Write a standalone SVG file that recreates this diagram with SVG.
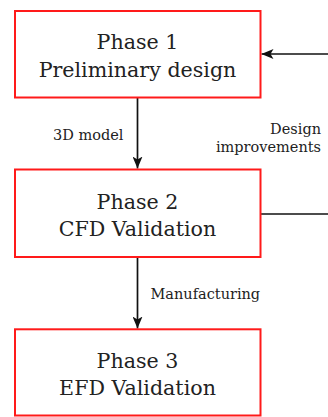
<svg xmlns="http://www.w3.org/2000/svg" width="328" height="417" viewBox="0 0 328 417">
<defs>
<style>
.box{fill:#fff;stroke:#ff1a1a;stroke-width:2}
.big{font-family:"DejaVu Serif","Liberation Serif",serif;font-size:20.6px;fill:#222;text-anchor:middle}
.small{font-family:"DejaVu Serif","Liberation Serif",serif;font-size:14.5px;fill:#222}
.conn{fill:none;stroke:#111;stroke-width:1.7}
</style>
<marker id="ah" viewBox="0 0 12 10" refX="12" refY="5" markerWidth="12" markerHeight="10" markerUnits="userSpaceOnUse" orient="auto">
<path d="M0,0 L12,5 L0,10 L3,5 z" fill="#111"/>
</marker>
</defs>
<rect width="328" height="417" fill="#fff"/>
<g id="connectors">
<line class="conn" x1="137.5" y1="98" x2="137.5" y2="168.5" marker-end="url(#ah)"/>
<line class="conn" x1="137.5" y1="258" x2="137.5" y2="328.5" marker-end="url(#ah)"/>
<line class="conn" x1="261" y1="214" x2="330" y2="214"/>
<line class="conn" x1="330" y1="54" x2="261.5" y2="54" marker-end="url(#ah)"/>
</g>
<g id="phase1">
<rect class="box" x="15" y="11" width="245.5" height="86.5"/>
<text class="big" x="137.5" y="49.3">Phase 1</text>
<text class="big" x="137.5" y="76.7">Preliminary design</text>
</g>
<g id="phase2">
<rect class="box" x="15" y="169.5" width="245.5" height="87.5"/>
<text class="big" x="137.5" y="209">Phase 2</text>
<text class="big" x="137.5" y="235.7">CFD Validation</text>
</g>
<g id="phase3">
<rect class="box" x="15" y="329.3" width="245.5" height="86.2"/>
<text class="big" x="137.5" y="368.3">Phase 3</text>
<text class="big" x="137.5" y="395">EFD Validation</text>
</g>
<g id="labels">
<text class="small" x="123.5" y="140" text-anchor="end">3D model</text>
<text class="small" x="321" y="134.3" text-anchor="end">Design</text>
<text class="small" x="321" y="151.5" text-anchor="end">improvements</text>
<text class="small" x="150.5" y="299.3">Manufacturing</text>
</g>
</svg>
